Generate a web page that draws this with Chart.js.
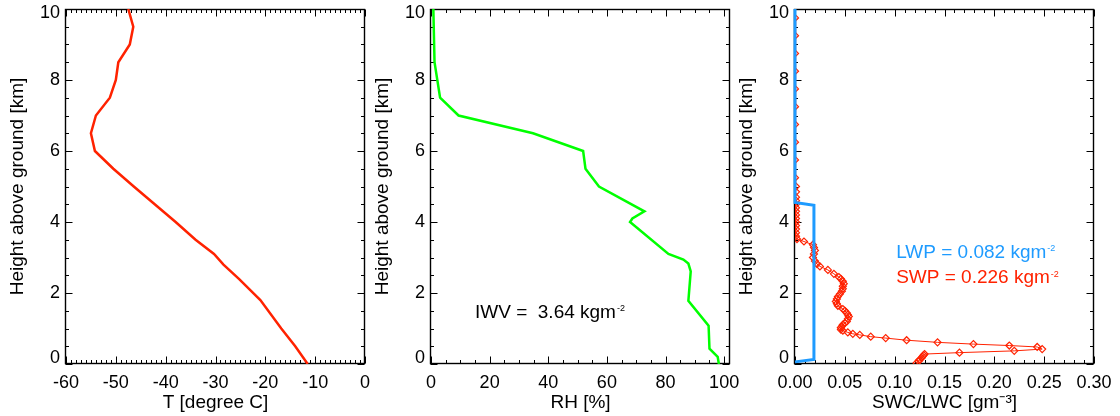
<!DOCTYPE html>
<html>
<head>
<meta charset="utf-8">
<title>Profiles</title>
<script src="https://cdn.jsdelivr.net/npm/chart.js@4.4.1/dist/chart.umd.min.js"></script>
<style>
  html, body { margin: 0; padding: 0; background: #fff; }
  #wrap { position: relative; width: 1120px; height: 416px; overflow: hidden; }
  #wrap canvas { position: absolute; top: 0; }
</style>
</head>
<body>
<div id="wrap">
  <canvas id="tChart" width="400" height="416" style="left:0px"></canvas>
  <canvas id="rhChart" width="400" height="416" style="left:365px"></canvas>
  <canvas id="wcChart" width="400" height="416" style="left:729px"></canvas>
</div>
<script>
// ---- data (height in km) ----

// temperature profile
const tHeight = [10.0, 9.5, 9.0, 8.5, 8.0, 7.5, 7.0, 6.5, 6.0, 5.5, 5.0, 4.5, 4.0, 3.5, 3.1, 2.8, 2.4, 1.8, 1.0, 0.5, 0.0];
const tValue  = [-47.5, -46.5, -47.2, -49.5, -50.0, -51.2, -54.0, -55.0, -54.2, -50.5, -46.4, -42.2, -38.0, -34.0, -30.3, -28.4, -25.3, -21.0, -16.8, -14.0, -11.5];

// relative humidity profile
const rhHeight = [10.0, 8.5, 7.5, 7.0, 6.5, 6.0, 5.5, 5.0, 4.3, 4.1, 4.0, 3.1, 2.94, 2.83, 2.61, 1.78, 1.08, 0.43, 0.2, 0.0];
const rhValue  = [0.8, 1.2, 3.1, 9.4, 34.8, 51.9, 52.7, 57.3, 72.8, 68.7, 67.9, 81.0, 86.1, 87.8, 88.6, 87.8, 94.7, 95.0, 97.8, 98.2];

// liquid water content
const lwcHeight = [10.0, 4.55, 4.47, 0.13, 0.06];
const lwcValue  = [0.0, 0.0, 0.019, 0.019, 0.0];

// snow water content
const swcHeight = [
  9.75, 9.25, 8.75, 8.25, 7.75, 7.25, 6.75, 6.25, 5.75, 5.25,
  5.0, 4.85, 4.7, 4.6, 4.5, 4.4, 4.3, 4.2, 4.1, 4.0, 3.9, 3.8, 3.7, 3.6,
  3.52, 3.45, 3.36, 3.28, 3.2, 3.1, 3.0, 2.9, 2.82, 2.75,
  2.65, 2.54, 2.45, 2.4, 2.33, 2.26, 2.19, 2.12, 2.05, 1.97,
  1.90, 1.83, 1.76, 1.70, 1.64, 1.55, 1.5, 1.44, 1.39, 1.34,
  1.27, 1.20, 1.15, 1.11, 1.06, 1.02, 0.97, 0.94, 0.89, 0.85,
  0.82, 0.77, 0.73, 0.67, 0.61, 0.56, 0.52, 0.48, 0.42, 0.37,
  0.32, 0.28, 0.25, 0.21, 0.17, 0.12, 0.08, 0.03
];
const swcValue = [
  0, 0, 0, 0, 0, 0, 0, 0, 0, 0,
  0.001, 0.001, 0.001, 0.001, 0.001, 0.001, 0.001, 0.001, 0.001, 0.001, 0.001, 0.001, 0.001, 0.001,
  0.002, 0.009, 0.018, 0.019, 0.020, 0.019, 0.018, 0.020, 0.022, 0.025,
  0.033, 0.039, 0.044, 0.046, 0.048, 0.049, 0.048, 0.048, 0.047, 0.045,
  0.043, 0.042, 0.041, 0.042, 0.043, 0.048, 0.050, 0.052, 0.053, 0.054,
  0.053, 0.052, 0.050, 0.048, 0.047, 0.046, 0.046, 0.048, 0.053, 0.058,
  0.065, 0.076, 0.091, 0.112, 0.143, 0.179, 0.215, 0.243, 0.248, 0.220,
  0.165, 0.130, 0.129, 0.128, 0.127, 0.125, 0.124, 0.122
];

// tick labels
const heightTicks = [0, 2, 4, 6, 8, 10];
const tTicks  = [-60, -50, -40, -30, -20, -10, 0];
const rhTicks = [0, 20, 40, 60, 80, 100];
const wcTicks = [0, 0.05, 0.10, 0.15, 0.20, 0.25, 0.30];

const FONT = '"Liberation Sans", Arial, Helvetica, sans-serif';
Chart.defaults.font.family = FONT;
Chart.defaults.color = '#000';

const RED = '#ff2200';
const GREEN = '#00ff00';
const BLUE = '#1e9bff';

// wanted plot box inside each canvas
const AREA = { left: 66, top: 9, right: 365, bottom: 364 };

const toPoints = (heights, values) => heights.map((h, i) => ({ x: values[i], y: h }));

// box round the plot with inward ticks on all four sides,
// plus the height labels (end labels kept inside the axis like IDL does)
function frameAndTicks(xSpec, ySpec) {
  const along = (scale, spec) => {
    const out = [];
    const n = Math.floor((spec.max - spec.min) / spec.minor + 1e-6);
    for (let i = 0; i <= n; i++) {
      const v = spec.min + i * spec.minor;
      const r = v / spec.major;
      out.push({ p: Math.round(scale.getPixelForValue(v)) + 0.5, big: Math.abs(r - Math.round(r)) < 1e-6 });
    }
    return out;
  };
  return {
    id: 'frameAndTicks',
    beforeDatasetsDraw(chart) {
      const { ctx, chartArea: a, scales: { x, y } } = chart;
      const L = Math.round(a.left) - 0.5, R = Math.round(a.right) - 0.5;
      const T = Math.round(a.top) + 0.5, B = Math.round(a.bottom) - 0.5;
      ctx.save();
      ctx.strokeStyle = '#000';
      ctx.lineWidth = 1.4;
      ctx.strokeRect(L, T, R - L, B - T);
      ctx.lineWidth = 1;
      ctx.beginPath();
      along(x, xSpec).forEach(t => {
        const len = t.big ? 7 : 3.5;
        ctx.moveTo(t.p, B); ctx.lineTo(t.p, B - len);
        ctx.moveTo(t.p, T); ctx.lineTo(t.p, T + len);
      });
      along(y, ySpec).forEach(t => {
        const len = t.big ? 7 : 3.5;
        ctx.moveTo(L, t.p); ctx.lineTo(L + len, t.p);
        ctx.moveTo(R, t.p); ctx.lineTo(R - len, t.p);
      });
      ctx.stroke();

      ctx.fillStyle = '#000';
      ctx.font = '18px ' + FONT;
      ctx.textAlign = 'right';
      ctx.textBaseline = 'middle';
      heightTicks.forEach(v => {
        let py = y.getPixelForValue(v);
        if (v === ySpec.min) py -= 6;
        if (v === ySpec.max) py += 4.5;
        ctx.fillText(String(v), a.left - 6, py);
      });
      ctx.restore();
    }
  };
}

// text written inside the plot, with a small superscript unit
function noteText(notes) {
  return {
    id: 'noteText',
    afterDatasetsDraw(chart) {
      const { ctx, scales: { x, y } } = chart;
      ctx.save();
      ctx.textAlign = 'left';
      ctx.textBaseline = 'alphabetic';
      notes.forEach(n => {
        const px = x.getPixelForValue(n.x);
        const py = y.getPixelForValue(n.y);
        ctx.fillStyle = n.color;
        ctx.font = '19px ' + FONT;
        ctx.fillText(n.text, px, py);
        const w = ctx.measureText(n.text).width;
        ctx.font = '9px ' + FONT;
        ctx.fillText(n.sup, px + w + 1, py - 6.5);
      });
      ctx.restore();
    }
  };
}

function panel(canvasId, p) {
  const titleFont = { size: 19, lineHeight: 1 };
  const canvas = document.getElementById(canvasId);
  const fit = { xHeight: canvas.height - AREA.bottom, yWidth: AREA.left };
  const chart = new Chart(canvas, {
    type: 'scatter',
    data: { datasets: p.datasets },
    options: {
      responsive: false,
      animation: false,
      events: [],
      layout: { padding: { top: AREA.top, right: canvas.width - AREA.right, bottom: 0, left: 0 } },
      plugins: { legend: { display: false }, tooltip: { enabled: false } },
      elements: { line: { tension: 0 } },
      scales: {
        x: {
          type: 'linear',
          min: p.x.min,
          max: p.x.max,
          grid: { display: false, drawTicks: false },
          border: { display: false },
          afterBuildTicks: s => { s.ticks = p.xTicks.map(v => ({ value: v })); },
          afterFit: s => { s.height = fit.xHeight; },
          ticks: { padding: 10, maxRotation: 0, autoSkip: false, font: { size: 18, lineHeight: 1 }, color: '#000', callback: p.fmt },
          title: { display: true, text: p.xTitle, font: titleFont, color: '#000', padding: { top: 0, bottom: 4 } }
        },
        y: {
          type: 'linear',
          min: 0,
          max: 10,
          grid: { display: false, drawTicks: false },
          border: { display: false },
          afterBuildTicks: s => { s.ticks = heightTicks.map(v => ({ value: v })); },
          afterFit: s => { s.width = fit.yWidth; },
          ticks: { display: false },
          title: { display: true, text: 'Height above ground [km]', font: titleFont, color: '#000', padding: { top: 8, bottom: 0 } }
        }
      }
    },
    plugins: [
      frameAndTicks(p.x, { min: 0, max: 10, major: 2, minor: 0.5 }),
      noteText(p.notes || [])
    ]
  });

  // nudge the layout once so the plot box lands where the reference has it
  const a = chart.chartArea;
  const pad = chart.options.layout.padding;
  fit.yWidth += AREA.left - a.left;
  fit.xHeight += a.bottom - AREA.bottom;
  pad.right += a.right - AREA.right;
  pad.top += AREA.top - a.top;
  chart.update();
  return chart;
}

panel('tChart', {
  x: { min: -60, max: 0, major: 10, minor: 1 },
  xTicks: tTicks,
  fmt: v => String(v),
  xTitle: 'T [degree C]',
  datasets: [{
    data: toPoints(tHeight, tValue),
    showLine: true,
    borderColor: RED,
    borderWidth: 2.5,
    pointRadius: 0
  }]
});

panel('rhChart', {
  x: { min: 0, max: 102, major: 20, minor: 5 },
  xTicks: rhTicks,
  fmt: v => String(v),
  xTitle: 'RH [%]',
  datasets: [{
    data: toPoints(rhHeight, rhValue),
    showLine: true,
    borderColor: GREEN,
    borderWidth: 2.5,
    pointRadius: 0
  }],
  notes: [{ x: 15, y: 1.30, text: 'IWV =  3.64 kgm', sup: '-2', color: '#000' }]
});

panel('wcChart', {
  x: { min: 0, max: 0.30, major: 0.05, minor: 0.01 },
  xTicks: wcTicks,
  fmt: v => v.toFixed(2),
  xTitle: 'SWC/LWC [gm\u207B\u00B3]',
  datasets: [
    {
      // liquid water, drawn on top and not clipped at the axis
      data: toPoints(lwcHeight, lwcValue),
      showLine: true,
      borderColor: BLUE,
      borderWidth: 3,
      pointRadius: 0,
      clip: false
    },
    {
      // snow water with open diamonds
      data: toPoints(swcHeight, swcValue),
      showLine: true,
      borderColor: RED,
      borderWidth: 1,
      pointStyle: 'rectRot',
      pointRadius: 3.5,
      pointBorderWidth: 1.2,
      pointBorderColor: RED,
      pointBackgroundColor: 'rgba(255,255,255,0)'
    }
  ],
  notes: [
    { x: 0.1015, y: 2.99, text: 'LWP = 0.082 kgm', sup: '-2', color: BLUE },
    { x: 0.1015, y: 2.28, text: 'SWP = 0.226 kgm', sup: '-2', color: RED }
  ]
});
</script>
</body>
</html>
